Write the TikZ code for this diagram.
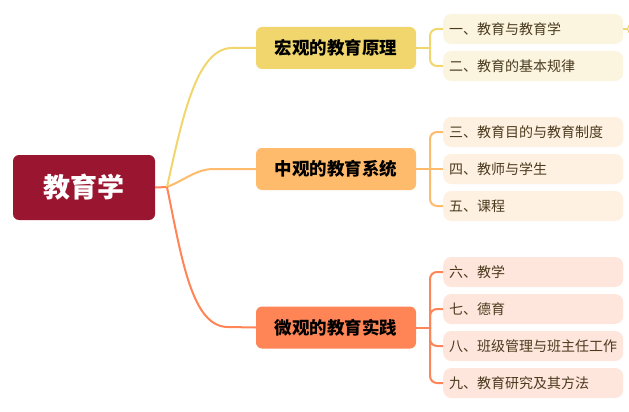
\documentclass[tikz,border=0pt]{standalone}
\usepackage{fontspec}
\setmainfont{Noto Sans CJK SC}
\definecolor{rootc}{HTML}{9A1530}
\definecolor{yel}{HTML}{F0D66C}
\definecolor{ora}{HTML}{FFBB6C}
\definecolor{red}{HTML}{FF8456}
\definecolor{yell}{HTML}{FBF5E0}
\definecolor{oral}{HTML}{FFF1E1}
\definecolor{redl}{HTML}{FFE6DC}
\definecolor{txt}{HTML}{4A3A1E}
\begin{document}
\begin{tikzpicture}[x=1pt,y=-1pt,
  rootbox/.style={fill=rootc,rounded corners=6pt,minimum width=142pt,minimum height=65pt,text=white,font=\fontsize{27}{30}\selectfont\bfseries},
  mainbox/.style={rounded corners=6pt,minimum width=160pt,minimum height=42pt,text=black,font=\fontsize{17.5}{20}\selectfont\bfseries},
  leafbox/.style={rounded corners=8pt,anchor=west,minimum height=30pt,text width=168pt,inner xsep=6pt,align=left,text=txt,font=\fontsize{14}{16}\selectfont},
  conn/.style={line width=2pt},
  brk/.style={line width=2pt,rounded corners=7pt}]
\useasboundingbox (0,0) rectangle (629,412);
% root
\node[rootbox] (root) at (84,187.5) {教育学};
\coordinate (o) at (167,187);
% main nodes
\node[mainbox,fill=yel] (A) at (336,48) {宏观的教育原理};
\node[mainbox,fill=ora] (B) at (336,169) {中观的教育系统};
\node[mainbox,fill=red] (C) at (336,327.5) {微观的教育实践};
% leaves
\node[leafbox,fill=yell] (a1) at (443,29) {一、教育与教育学};
\node[leafbox,fill=yell] (a2) at (443,66) {二、教育的基本规律};
\node[leafbox,fill=oral] (b1) at (443,132) {三、教育目的与教育制度};
\node[leafbox,fill=oral] (b2) at (443,169) {四、教师与学生};
\node[leafbox,fill=oral] (b3) at (443,206) {五、课程};
\node[leafbox,fill=redl] (c1) at (443,272) {六、教学};
\node[leafbox,fill=redl] (c2) at (443,309) {七、德育};
\node[leafbox,fill=redl] (c3) at (443,346) {八、班级管理与班主任工作};
\node[leafbox,fill=redl] (c4) at (443,383) {九、教育研究及其方法};
% root connectors
\draw[conn,red] (root.east) -- (o);
\draw[conn,yel] (o) .. controls (182,120) and (196,48) .. (232,48) -- (A.west);
\draw[conn,ora] (o) .. controls (185,180) and (196,169) .. (214,169) -- (B.west);
\draw[conn,red] (o) .. controls (182,260) and (192,327) .. (228,327) -- (C.west);
% brackets
\coordinate (ja) at (430,48);
\coordinate (jb) at (430,169);
\coordinate (jc) at (430,327.5);
\draw[conn,yel] (A.east) -- (ja);
\draw[brk,yel] (ja) |- (a1.west);
\draw[brk,yel] (ja) |- (a2.west);
\draw[conn,ora] (B.east) -- (jb);
\draw[brk,ora] (jb) |- (b1.west);
\draw[brk,ora] (jb) -- (b2.west);
\draw[brk,ora] (jb) |- (b3.west);
\draw[conn,red] (C.east) -- (jc);
\draw[brk,red] (jc) |- (c1.west);
\draw[brk,red] (jc) |- (c2.west);
\draw[brk,red] (jc) |- (c3.west);
\draw[brk,red] (jc) |- (c4.west);
% collapse marker
\coordinate (m) at (632.5,29);
\draw[line width=1.5pt,yel] (a1.east) -- (627,29);
\draw[line width=1.2pt,yel,fill=white] (m) circle (5pt);
\end{tikzpicture}
\end{document}
